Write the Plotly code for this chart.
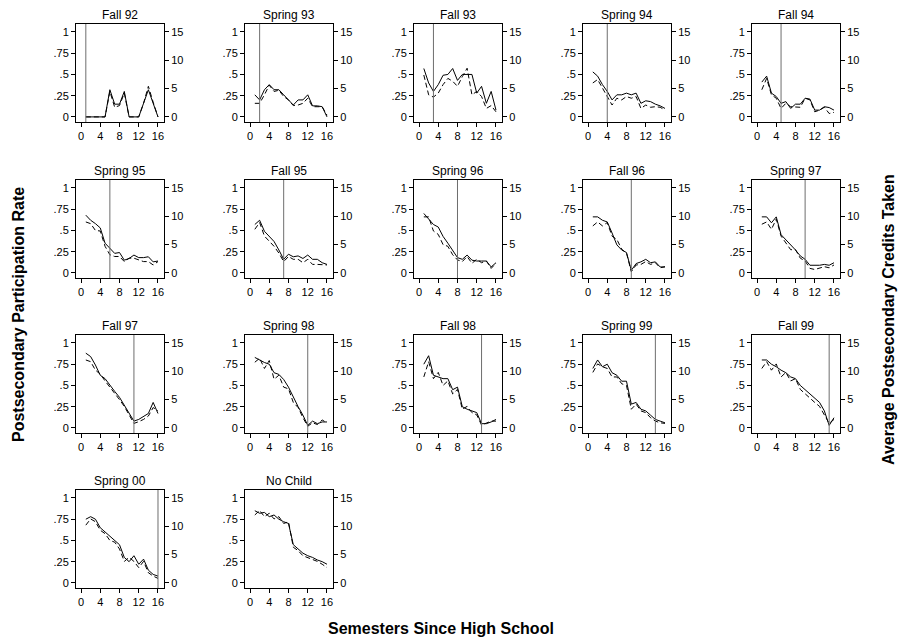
import plotly.graph_objects as go

# ---------------- data ----------------
semesters = list(range(1, 17))
x_ticks = [0, 4, 8, 12, 16]
left_ticks = [0, 0.25, 0.5, 0.75, 1]
left_tick_text = ["0", ".25", ".5", ".75", "1"]
right_ticks = [0, 5, 10, 15]

panel_titles = ["Fall 92", "Spring 93", "Fall 93", "Spring 94", "Fall 94",
                "Spring 95", "Fall 95", "Spring 96", "Fall 96", "Spring 97",
                "Fall 97", "Spring 98", "Fall 98", "Spring 99", "Fall 99",
                "Spring 00", "No Child"]
birth_semester = [1, 2, 3, 4, 5, 6, 7, 8, 9, 10, 11, 12, 13, 14, 15, 16, None]

# participation rate (left axis, 0-1)
part_fall92 = [0, 0, 0, 0, 0, 0.32, 0.15, 0.15, 0.30, 0, 0, 0, 0.16, 0.32, 0.16, 0]
part_spring93 = [0.26, 0.20, 0.32, 0.38, 0.32, 0.32, 0.26, 0.20, 0.14, 0.20, 0.20, 0.26, 0.13, 0.13, 0.12, 0.0]
part_fall93 = [0.57, 0.40, 0.30, 0.38, 0.49, 0.50, 0.57, 0.43, 0.50, 0.50, 0.50, 0.28, 0.36, 0.16, 0.30, 0.08]
part_spring94 = [0.53, 0.48, 0.38, 0.30, 0.20, 0.26, 0.26, 0.28, 0.26, 0.28, 0.16, 0.19, 0.18, 0.15, 0.13, 0.10]
part_fall94 = [0.41, 0.48, 0.28, 0.24, 0.16, 0.18, 0.10, 0.15, 0.15, 0.22, 0.21, 0.08, 0.08, 0.12, 0.11, 0.08]
part_spring95 = [0.68, 0.62, 0.58, 0.53, 0.35, 0.29, 0.23, 0.24, 0.15, 0.17, 0.21, 0.18, 0.18, 0.19, 0.13, 0.14]
part_fall95 = [0.57, 0.62, 0.49, 0.43, 0.37, 0.27, 0.16, 0.22, 0.19, 0.20, 0.17, 0.21, 0.16, 0.16, 0.12, 0.10]
part_spring96 = [0.70, 0.64, 0.57, 0.54, 0.43, 0.35, 0.27, 0.18, 0.16, 0.21, 0.15, 0.14, 0.14, 0.14, 0.07, 0.12]
part_fall96 = [0.66, 0.66, 0.62, 0.60, 0.47, 0.33, 0.27, 0.24, 0.03, 0.11, 0.13, 0.16, 0.12, 0.13, 0.07, 0.07]
part_spring97 = [0.66, 0.66, 0.59, 0.66, 0.45, 0.39, 0.34, 0.27, 0.20, 0.16, 0.09, 0.09, 0.09, 0.10, 0.09, 0.12]
part_fall97 = [0.88, 0.84, 0.74, 0.62, 0.58, 0.50, 0.43, 0.36, 0.27, 0.18, 0.08, 0.10, 0.13, 0.17, 0.30, 0.17]
part_spring98 = [0.83, 0.80, 0.77, 0.75, 0.65, 0.63, 0.57, 0.48, 0.36, 0.25, 0.15, 0.03, 0.08, 0.05, 0.07, 0.07]
part_fall98 = [0.75, 0.85, 0.62, 0.60, 0.58, 0.58, 0.45, 0.48, 0.25, 0.22, 0.20, 0.18, 0.05, 0.05, 0.07, 0.10]
part_spring99 = [0.70, 0.80, 0.72, 0.75, 0.65, 0.62, 0.55, 0.55, 0.28, 0.30, 0.22, 0.20, 0.15, 0.10, 0.08, 0.06]
part_fall99 = [0.80, 0.80, 0.75, 0.72, 0.68, 0.65, 0.60, 0.58, 0.50, 0.45, 0.40, 0.35, 0.30, 0.20, 0.03, 0.12]
part_spring00 = [0.75, 0.78, 0.75, 0.65, 0.60, 0.55, 0.50, 0.45, 0.30, 0.25, 0.32, 0.22, 0.28, 0.15, 0.10, 0.08]
part_nochild = [0.85, 0.82, 0.83, 0.78, 0.80, 0.75, 0.72, 0.70, 0.45, 0.40, 0.35, 0.32, 0.30, 0.27, 0.25, 0.22]

# average credits taken (right axis, 0-15)
cred_fall92 = [0, 0, 0, 0, 0, 4.5, 1.7, 2.0, 4.2, 0, 0, 0, 2.4, 5.4, 2.6, 0]
cred_spring93 = [2.4, 2.4, 3.9, 5.6, 4.5, 4.7, 3.6, 3.0, 2.0, 2.1, 2.4, 3.3, 1.8, 1.8, 1.8, 0.3]
cred_fall93 = [7.4, 3.9, 3.5, 4.2, 5.7, 6.8, 6.3, 5.4, 7.1, 8.6, 3.9, 4.5, 3.6, 1.5, 2.0, 0.9]
cred_spring94 = [6.0, 6.6, 5.1, 3.6, 2.1, 3.3, 3.0, 3.6, 3.3, 3.6, 1.5, 2.1, 1.7, 1.8, 1.7, 1.2]
cred_fall94 = [4.8, 6.8, 3.9, 3.3, 1.5, 2.4, 1.8, 1.8, 1.7, 3.3, 3.0, 0.9, 1.2, 1.7, 0.6, 0.8]
cred_spring95 = [9.0, 8.7, 7.5, 7.4, 4.7, 3.2, 2.9, 2.9, 2.0, 2.6, 2.6, 2.3, 2.0, 2.0, 1.4, 2.0]
cred_fall95 = [7.7, 8.9, 6.5, 5.6, 4.7, 3.5, 2.0, 2.9, 2.4, 2.4, 1.8, 2.4, 1.5, 1.5, 1.4, 1.4]
cred_spring96 = [9.9, 9.9, 7.4, 6.8, 5.0, 4.7, 3.2, 2.3, 2.0, 2.9, 1.7, 2.4, 1.8, 2.1, 0.8, 1.7]
cred_fall96 = [8.3, 9.0, 8.3, 8.9, 6.5, 5.9, 4.2, 3.5, 0.2, 1.4, 1.5, 2.0, 1.5, 1.8, 0.9, 1.1]
cred_spring97 = [8.6, 9.0, 7.7, 9.5, 6.5, 5.4, 4.1, 4.1, 2.6, 2.1, 0.8, 0.6, 0.9, 1.1, 0.9, 1.4]
cred_fall97 = [12.0, 11.7, 10.2, 9.5, 8.3, 7.2, 6.3, 5.0, 3.8, 2.3, 0.8, 1.1, 1.5, 2.1, 3.6, 3.0]
cred_spring98 = [11.6, 12.3, 10.5, 11.9, 8.6, 9.3, 7.2, 6.9, 4.5, 3.6, 1.8, 0.3, 0.9, 0.6, 1.4, 0.9]
cred_fall98 = [9.0, 11.7, 8.7, 9.8, 7.5, 8.3, 6.0, 6.8, 3.3, 3.8, 2.7, 2.3, 0.5, 0.8, 1.2, 1.2]
cred_spring99 = [9.8, 11.3, 10.8, 10.5, 9.0, 9.0, 7.8, 7.5, 3.3, 4.2, 3.0, 2.7, 1.8, 1.2, 0.9, 0.8]
cred_fall99 = [10.5, 11.7, 10.2, 11.3, 9.0, 9.8, 8.3, 8.7, 6.8, 6.0, 5.3, 4.5, 3.8, 2.3, 0.8, 1.5]
cred_spring00 = [10.2, 11.3, 10.8, 9.3, 8.7, 7.5, 7.2, 6.0, 3.8, 4.5, 3.8, 2.7, 3.8, 1.8, 1.2, 0.8]
cred_nochild = [12.0, 12.8, 11.7, 12.3, 11.3, 11.7, 10.5, 10.8, 6.3, 5.7, 4.8, 4.5, 4.2, 3.8, 3.3, 2.7]

part_series = [part_fall92, part_spring93, part_fall93, part_spring94, part_fall94,
               part_spring95, part_fall95, part_spring96, part_fall96, part_spring97,
               part_fall97, part_spring98, part_fall98, part_spring99, part_fall99,
               part_spring00, part_nochild]
cred_series = [cred_fall92, cred_spring93, cred_fall93, cred_spring94, cred_fall94,
               cred_spring95, cred_fall95, cred_spring96, cred_fall96, cred_spring97,
               cred_fall97, cred_spring98, cred_fall98, cred_spring99, cred_fall99,
               cred_spring00, cred_nochild]

# ---------------- layout geometry (pixels) ----------------
W, H = 905, 643
col_left = [76, 245, 414, 583, 752]
row_top = [24, 180, 335, 490]
box_w, box_h = 88, 98
x_range = [-1.04, 17.25]
y_range = [-0.06, 1.094]
y2_range = [y_range[0] * 15, y_range[1] * 15]

FONT = "Liberation Sans, Arial, Helvetica, sans-serif"
tick_font = dict(family=FONT, size=11, color="black")

fig = go.Figure()
layout = dict(
    width=W, height=H,
    margin=dict(l=0, r=0, t=0, b=0),
    paper_bgcolor="white", plot_bgcolor="white",
    showlegend=False,
    font=dict(family=FONT, color="black"),
)
annotations = []
shapes = []
n = len(panel_titles)

for i in range(n):
    r, c = divmod(i, 5)
    k = i + 1
    kr = i + 1 + n
    px0 = col_left[c]
    py0 = row_top[r]
    xd = [px0 / W, (px0 + box_w) / W]
    yd = [1 - (py0 + box_h) / H, 1 - py0 / H]

    xname = "xaxis" if k == 1 else f"xaxis{k}"
    yname = "yaxis" if k == 1 else f"yaxis{k}"
    yrname = f"yaxis{kr}"
    xref = "x" if k == 1 else f"x{k}"
    yref = "y" if k == 1 else f"y{k}"
    yrref = f"y{kr}"

    layout[xname] = dict(domain=xd, anchor=yref, range=x_range,
                         tickmode="array", tickvals=x_ticks,
                         ticks="outside", ticklen=4, tickwidth=1, tickcolor="black",
                         showline=True, linecolor="black", linewidth=1, mirror=True,
                         showgrid=False, zeroline=False, tickfont=tick_font,
                         fixedrange=True)
    layout[yname] = dict(domain=yd, anchor=xref, range=y_range,
                         tickmode="array", tickvals=left_ticks, ticktext=left_tick_text,
                         ticks="outside", ticklen=4, tickwidth=1, tickcolor="black",
                         showline=True, linecolor="black", linewidth=1,
                         showgrid=False, zeroline=False, tickfont=tick_font,
                         fixedrange=True)
    layout[yrname] = dict(overlaying=yref, anchor=xref, side="right", range=y2_range,
                          tickmode="array", tickvals=right_ticks,
                          ticks="outside", ticklen=4, tickwidth=1, tickcolor="black",
                          showline=True, linecolor="black", linewidth=1,
                          showgrid=False, zeroline=False, tickfont=tick_font,
                          fixedrange=True)

    fig.add_trace(go.Scatter(x=semesters, y=part_series[i], xaxis=xref, yaxis=yref,
                             mode="lines", line=dict(color="black", width=1),
                             hoverinfo="skip"))
    fig.add_trace(go.Scatter(x=semesters, y=cred_series[i], xaxis=xref, yaxis=yrref,
                             mode="lines", line=dict(color="black", width=1, dash="5px,3px"),
                             hoverinfo="skip"))

    if birth_semester[i] is not None:
        shapes.append(dict(type="line", xref=xref, yref=f"{yref} domain",
                           x0=birth_semester[i], x1=birth_semester[i], y0=0, y1=1,
                           line=dict(color="#6e6e6e", width=1)))

    annotations.append(dict(text=panel_titles[i], xref="paper", yref="paper",
                            x=(px0 + box_w / 2) / W, y=1 - (py0 - 9) / H,
                            showarrow=False, xanchor="center", yanchor="middle",
                            font=dict(family=FONT, size=12, color="black")))

title_font = dict(family=FONT, size=16, color="black")
annotations.append(dict(text="<b>Semesters Since High School</b>", xref="paper", yref="paper",
                        x=441 / W, y=1 - 628 / H, showarrow=False,
                        xanchor="center", yanchor="middle", font=title_font))
annotations.append(dict(text="<b>Postsecondary Participation Rate</b>", xref="paper", yref="paper",
                        x=18 / W, y=1 - 315 / H, showarrow=False, textangle=-90,
                        xanchor="center", yanchor="middle", font=title_font))
annotations.append(dict(text="<b>Average Postsecondary Credits Taken</b>", xref="paper", yref="paper",
                        x=888 / W, y=1 - 320 / H, showarrow=False, textangle=-90,
                        xanchor="center", yanchor="middle", font=title_font))

layout["annotations"] = annotations
layout["shapes"] = shapes
fig.update_layout(**layout)
fig.write_html("out.html")
